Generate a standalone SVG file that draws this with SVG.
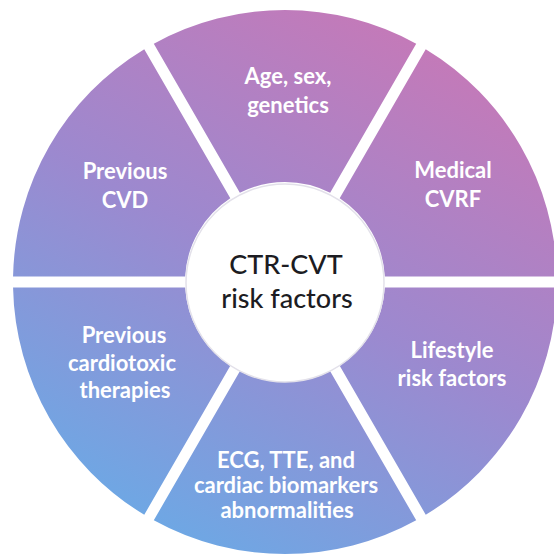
<svg xmlns="http://www.w3.org/2000/svg" width="554" height="555" viewBox="0 0 554 555">
  <defs>
    <linearGradient id="wheel" gradientUnits="userSpaceOnUse" x1="440" y1="20" x2="150" y2="550">
      <stop offset="0" stop-color="#c878b6"/>
      <stop offset="0.5" stop-color="#9c89cf"/>
      <stop offset="1" stop-color="#6aaae6"/>
    </linearGradient>
    <style>
      .seg { fill: url(#wheel); }
      .lbl { font-family: Lato, "Open Sans", sans-serif; font-weight: 700; font-size: 22px; fill: #ffffff; text-anchor: middle; }
      .hub { fill: #ffffff; stroke: #e3e1ea; stroke-width: 1.5; }
      .hubtxt { font-family: Lato, "Open Sans", sans-serif; font-weight: 500; font-size: 27px; fill: #1c1c22; text-anchor: middle; }
    </style>
  </defs>
  <rect width="554" height="555" fill="#ffffff"/>

  <!-- outer ring of six factor segments -->
  <g id="age-sex-genetics">
    <path class="seg" d="M153.80 43.74 A272 272 0 0 1 416.20 43.74 L330.16 192.78 A100 100 0 0 0 239.84 192.78 Z"/>
    <text class="lbl" x="288" y="84">Age, sex,</text>
    <text class="lbl" x="288" y="113">genetics</text>
  </g>
  <g id="medical-cvrf">
    <path class="seg" d="M425.74 49.24 A272 272 0 0 1 556.95 276.49 L384.85 276.5 A100 100 0 0 0 339.69 198.28 Z"/>
    <text class="lbl" x="453" y="178">Medical</text>
    <text class="lbl" x="453" y="207">CVRF</text>
  </g>
  <g id="lifestyle-risk-factors">
    <path class="seg" d="M556.95 287.51 A272 272 0 0 1 425.74 514.76 L339.69 365.72 A100 100 0 0 0 384.85 287.5 Z"/>
    <text class="lbl" x="452" y="358">Lifestyle</text>
    <text class="lbl" x="452" y="386">risk factors</text>
  </g>
  <g id="ecg-tte-biomarkers">
    <path class="seg" d="M416.20 520.26 A272 272 0 0 1 153.80 520.26 L239.84 371.22 A100 100 0 0 0 330.16 371.22 Z"/>
    <text class="lbl" x="286" y="468">ECG, TTE, and</text>
    <text class="lbl" x="286" y="493">cardiac biomarkers</text>
    <text class="lbl" x="287" y="518">abnormalities</text>
  </g>
  <g id="previous-cardiotoxic-therapies">
    <path class="seg" d="M144.26 514.76 A272 272 0 0 1 13.05 287.51 L185.15 287.5 A100 100 0 0 0 230.31 365.72 Z"/>
    <text class="lbl" x="124" y="343">Previous</text>
    <text class="lbl" x="122" y="371">cardiotoxic</text>
    <text class="lbl" x="125" y="398">therapies</text>
  </g>
  <g id="previous-cvd">
    <path class="seg" d="M13.05 276.49 A272 272 0 0 1 144.26 49.24 L230.31 198.28 A100 100 0 0 0 185.15 276.5 Z"/>
    <text class="lbl" x="125" y="179">Previous</text>
    <text class="lbl" x="125" y="208">CVD</text>
  </g>

  <!-- central hub -->
  <g id="ctr-cvt-risk-factors">
    <circle class="hub" cx="285" cy="283" r="99"/>
    <text class="hubtxt" x="286" y="274">CTR-CVT</text>
    <text class="hubtxt" x="287" y="308">risk factors</text>
  </g>
</svg>
